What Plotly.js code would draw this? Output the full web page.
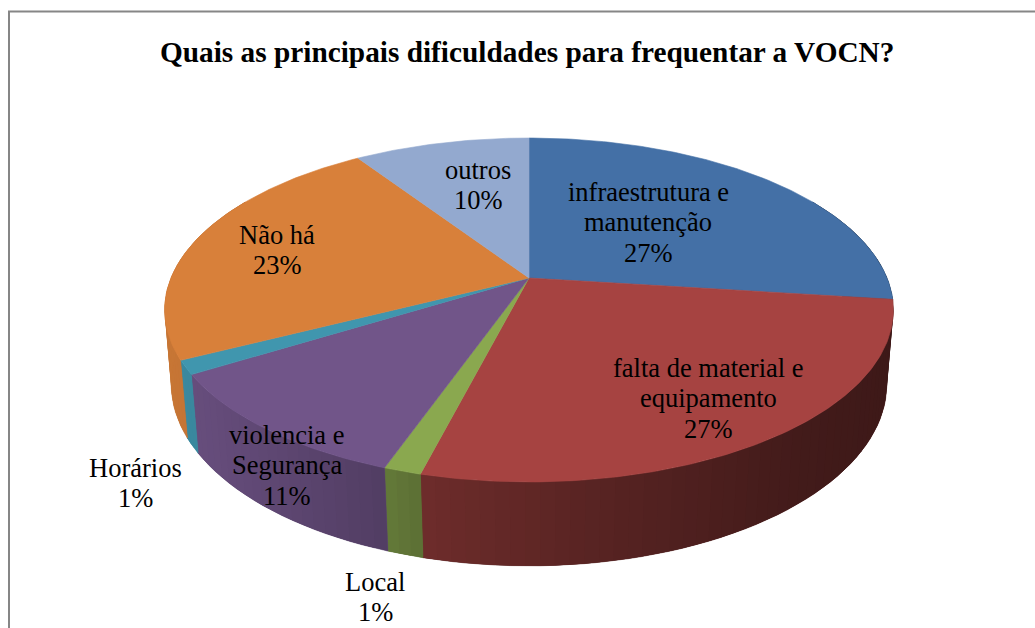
<!DOCTYPE html>
<html>
<head>
<meta charset="utf-8">
<script src="https://cdn.plot.ly/plotly-3.0.1.min.js"></script>
<style>html,body{margin:0;padding:0;background:#fff;overflow:hidden}</style>
</head>
<body>
<div id="chart" style="width:1035px;height:628px"></div>
<script>
const categories = ["infraestrutura e manutenção","falta de material e equipamento","Local","violencia e Segurança","Horários","Não há","outros"];
const values = [27.0, 27.0, 1.4, 10.8, 1.3, 23.2, 9.3];
const labelLines = [["infraestrutura e","manutenção","27%"],["falta de material e","equipamento","27%"],["Local","1%"],["violencia e","Segurança","11%"],["Horários","1%"],["Não há","23%"],["outros","10%"]];
const titleText = "Quais as principais dificuldades para frequentar a VOCN?";

// placement and style
const labelX = [648, 708, 375, 287, 135, 277, 478];
const labelY = [222, 398, 597, 465, 483, 250, 185];
const topColors = ["#4470a6","#a64341","#8aa84f","#715589","#4096ae","#d8803a","#93a9cf"];
const lineGap = 30.5;
const serif = '"Liberation Serif","Times New Roman",serif';
const total = values.reduce((a,b)=>a+b,0);

// perspective projection of the pie's top and bottom discs onto the page
function proj(deg, disc){
  const t = deg*Math.PI/180, u = Math.sin(t), v = Math.cos(t);
  const den = 1 + disc.c*v;
  return [disc.cx + disc.d*u/den, (disc.a*v + disc.y0)/den];
}
const topDisc = {cx:529, d:358, c:0.186, a:-114.3, y0:278};
const botDisc = {cx:529, d:352, c:0.18,  a:-112.8, y0:351.2};

function shade(x){
  const xs=[170,205,388,423,580,800,893], fs=[0.92,0.90,0.72,0.66,0.54,0.40,0.37];
  for(let i=1;i<xs.length;i++) if(x<=xs[i]){const k=(x-xs[i-1])/(xs[i]-xs[i-1]);return fs[i-1]+k*(fs[i]-fs[i-1]);}
  return fs[fs.length-1];
}
function darken(hex,f){
  const n=parseInt(hex.slice(1),16);
  return `rgb(${Math.round((n>>16&255)*f)},${Math.round((n>>8&255)*f)},${Math.round((n&255)*f)})`;
}
function poly(xs,ys,color,lw){
  return {type:"scatter",mode:"lines",x:xs,y:ys,fill:"toself",fillcolor:color,
    line:{color:color,width:lw},hoverinfo:"skip",showlegend:false};
}

const traces=[];
let start=0;
const spans=values.map(v=>{const s=start;start+=v/total*360;return [s,start];});

// side wall: overlapping strips, each slice on a solid underlay so no seams show
spans.forEach(([s,e],i)=>{
  const a0=Math.max(s,60), a1=Math.min(e,300);
  if(a1<=a0) return;
  const n=Math.max(1,Math.ceil((a1-a0)/2));
  const tops=[],bots=[];
  for(let k=0;k<=n;k++){const p=a0+(a1-a0)*k/n;tops.push(proj(p,topDisc));bots.push(proj(p,botDisc));}
  const outline=tops.concat(bots.slice().reverse()); outline.push(tops[0]);
  traces.push(poly(outline.map(p=>p[0]),outline.map(p=>p[1]),
    darken(topColors[i],shade((tops[0][0]+tops[n][0])/2)),0.5));
  for(let k=0;k<n;k++){
    const j=Math.min(k+2,n);
    const A=tops[k],B=tops[j],C=bots[j],D=bots[k];
    const mx=(tops[k][0]+tops[k+1][0]+bots[k][0]+bots[k+1][0])/4;
    traces.push(poly([A[0],B[0],C[0],D[0],A[0]],[A[1],B[1],C[1],D[1],A[1]],
      darken(topColors[i],shade(mx)),0));
  }
});
// top faces
spans.forEach(([s,e],i)=>{
  const xs=[topDisc.cx],ys=[topDisc.y0];
  const n=Math.ceil((e-s)/0.75);
  for(let k=0;k<=n;k++){const P=proj(s+(e-s)*k/n,topDisc);xs.push(P[0]);ys.push(P[1]);}
  xs.push(topDisc.cx);ys.push(topDisc.y0);
  const tr=poly(xs,ys,topColors[i],0.6);
  tr.name=categories[i];
  traces.push(tr);
});

const annotations=[];
labelLines.forEach((lines,i)=>{
  lines.forEach((txt,k)=>{
    annotations.push({xref:"x",yref:"y",x:labelX[i],y:labelY[i]+(k-(lines.length-1)/2)*lineGap,
      text:txt,showarrow:false,align:"center",xanchor:"center",yanchor:"middle",
      font:{family:serif,size:26.5,color:"#000"}});
  });
});
annotations.push({xref:"x",yref:"y",x:527,y:52,text:"<b>"+titleText+"</b>",showarrow:false,
  xanchor:"center",yanchor:"middle",font:{family:serif,size:29.3,color:"#000"}});

const layout={
  width:1035,height:628,margin:{l:0,r:0,t:0,b:0},
  paper_bgcolor:"#fff",plot_bgcolor:"#fff",showlegend:false,
  xaxis:{range:[0,1035],visible:false,fixedrange:true},
  yaxis:{range:[628,0],visible:false,fixedrange:true},
  annotations:annotations,
  shapes:[{type:"rect",xref:"x",yref:"y",x0:9,y0:11.5,x1:1060,y1:660,line:{color:"#868686",width:2},fillcolor:"rgba(0,0,0,0)",layer:"below"}]
};
Plotly.newPlot("chart",traces,layout,{staticPlot:true,displayModeBar:false});
</script>
</body>
</html>
